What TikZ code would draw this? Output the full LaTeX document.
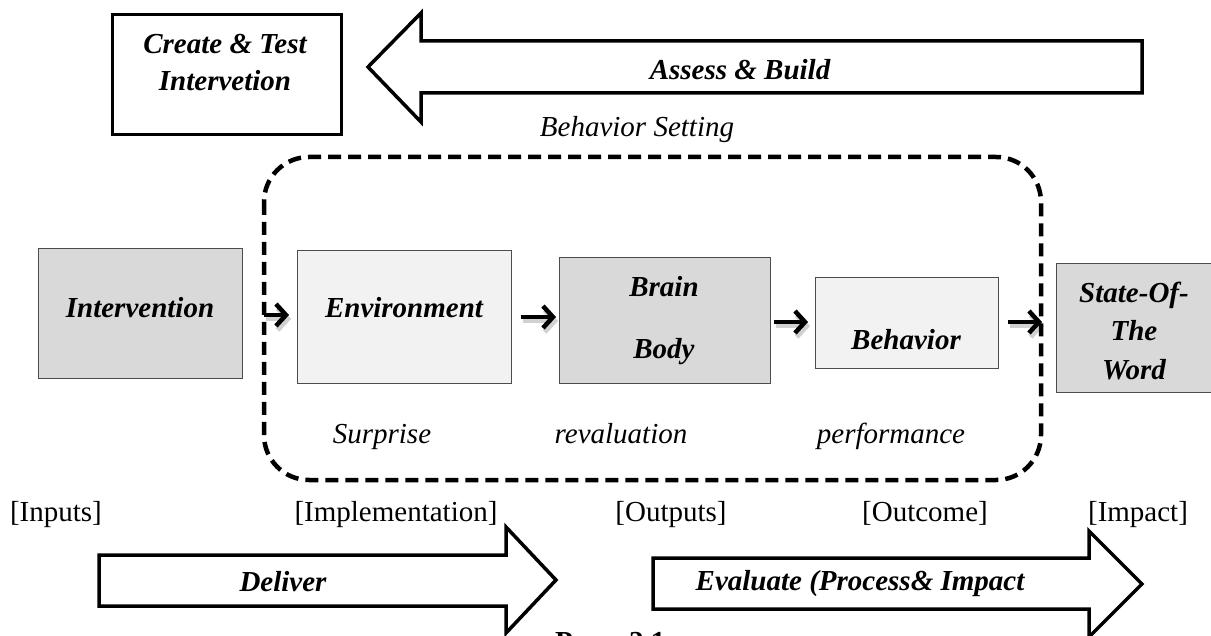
\documentclass[tikz,border=0pt]{standalone}
\usepackage{fontspec}
\setmainfont{Liberation Serif}
\usetikzlibrary{arrows.meta,calc}
\begin{document}
\begin{tikzpicture}[x=1pt,y=-1pt,
  bt/.style={font=\fontsize{29}{37}\selectfont\bfseries\itshape, align=center, inner sep=0pt},
  it/.style={font=\fontsize{29}{34}\selectfont\itshape, inner sep=0pt, anchor=base},
  rm/.style={font=\fontsize{29}{34}\selectfont, inner sep=0pt, anchor=base},
  darkbox/.style={draw=black!70, line width=1pt, fill=black!15, inner sep=0pt},
  lightbox/.style={draw=black!70, line width=1pt, fill=black!5, inner sep=0pt},
  bigarrow/.style={draw=black, line width=3.5pt, fill=white, line join=miter},
  sarrow/.style={line width=4.5pt, -{Straight Barb[length=10pt,width=22pt,line width=4.5pt]}},
  shade/.style={line width=5pt, draw=black, opacity=0.18, -{Straight Barb[length=10pt,width=22pt,line width=5pt]}}
]
\useasboundingbox (0,0) rectangle (1211,636);
\fill[white] (0,0) rectangle (1211,636);

% Create & Test box
\node[draw=black, line width=3pt, minimum width=229pt, minimum height=120pt, anchor=north west] (ct) at (111,13) {};
\node[bt] (ctt) at (225,63) {Create \& Test\\Intervetion};

% top big arrow
\draw[bigarrow] (1142,41) -- (421,41) -- (421,13) -- (368,67) -- (421,122) -- (421,93) -- (1142,93) -- cycle;
\node[bt] (ab) at (740,70) {Assess \& Build};

% behavior setting
\node[it] (bs) at (637,137) {Behavior Setting};
\draw[line width=4.5pt, dash pattern=on 13pt off 7pt, rounded corners=45pt] (264,157) rectangle (1041,480);

% boxes
\node[darkbox, minimum width=204pt, minimum height=130pt, anchor=north west] (int) at (38,248) {};
\node[lightbox, minimum width=214pt, minimum height=133pt, anchor=north west] (env) at (297,250) {};
\node[darkbox, minimum width=211pt, minimum height=126pt, anchor=north west] (brain) at (559,257) {};
\node[lightbox, minimum width=183pt, minimum height=91pt, anchor=north west] (beh) at (815,277) {};
\node[darkbox, minimum width=162pt, minimum height=129pt, anchor=north west] (state) at (1056,263) {};

\node[bt] (intt) at (140,308) {Intervention};
\node[bt] (envt) at (404,308) {Environment};
\node[bt] (braint) at (664,287) {Brain};
\node[bt] (bodyt) at (664,352) {Body};
\node[bt] (beht) at (906,340) {Behavior};
\node[bt, font=\fontsize{29}{38.5}\selectfont\bfseries\itshape] (statet) at (1134,331) {State-Of-\\The\\Word};

% small arrows
\coordinate (y1) at (0,315);
\coordinate (y2) at (0,317);
\coordinate (y3) at (0,322);
\draw[shade, shorten <=21pt, shorten >=8pt] ([shift={(2,4)}]int.east |- y1) -- ([shift={(2,4)}]env.west |- y1);
\draw[shade, shorten <=9pt, shorten >=3pt] ([shift={(2,4)}]env.east |- y2) -- ([shift={(2,4)}]brain.west |- y2);
\draw[shade, shorten <=3pt, shorten >=7pt] ([shift={(2,4)}]brain.east |- y3) -- ([shift={(2,4)}]beh.west |- y3);
\draw[shade, shorten <=9pt, shorten >=14pt] ([shift={(2,4)}]beh.east |- y3) -- ([shift={(2,4)}]state.west |- y3);
\draw[sarrow, shorten <=21pt, shorten >=8pt] (int.east |- y1) -- (env.west |- y1);
\draw[sarrow, shorten <=9pt, shorten >=3pt] (env.east |- y2) -- (brain.west |- y2);
\draw[sarrow, shorten <=3pt, shorten >=7pt] (brain.east |- y3) -- (beh.west |- y3);
\draw[sarrow, shorten <=9pt, shorten >=14pt] (beh.east |- y3) -- (state.west |- y3);

% italic labels
\node[it] (sur) at (382,443) {Surprise};
\node[it] (rev) at (621,443) {revaluation};
\node[it] (perf) at (891,443) {performance};

% bracket labels
\node[rm] (inp) at (56,521) {[Inputs]};
\node[rm] (impl) at (396,521) {[Implementation]};
\node[rm] (outp) at (671,521) {[Outputs]};
\node[rm] (outc) at (925,521) {[Outcome]};
\node[rm] (impa) at (1138,521) {[Impact]};

% bottom arrows
\draw[bigarrow] (99,555) -- (506,555) -- (506,527) -- (556,580) -- (506,633) -- (506,606) -- (99,606) -- cycle;
\node[bt] (del) at (283,582) {Deliver};
\draw[bigarrow] (653,558) -- (1089,558) -- (1089,531) -- (1142,584) -- (1089,637) -- (1089,609) -- (653,609) -- cycle;
\node[bt] (eval) at (860,584) {Evaluate (Process\& Impact};

% caption (cut by the page edge)
\node[font=\fontsize{29}{34}\selectfont\bfseries, anchor=base west, inner sep=0pt] (cap) at (555,651) {Рис. \,\,2.1};
\end{tikzpicture}
\end{document}
